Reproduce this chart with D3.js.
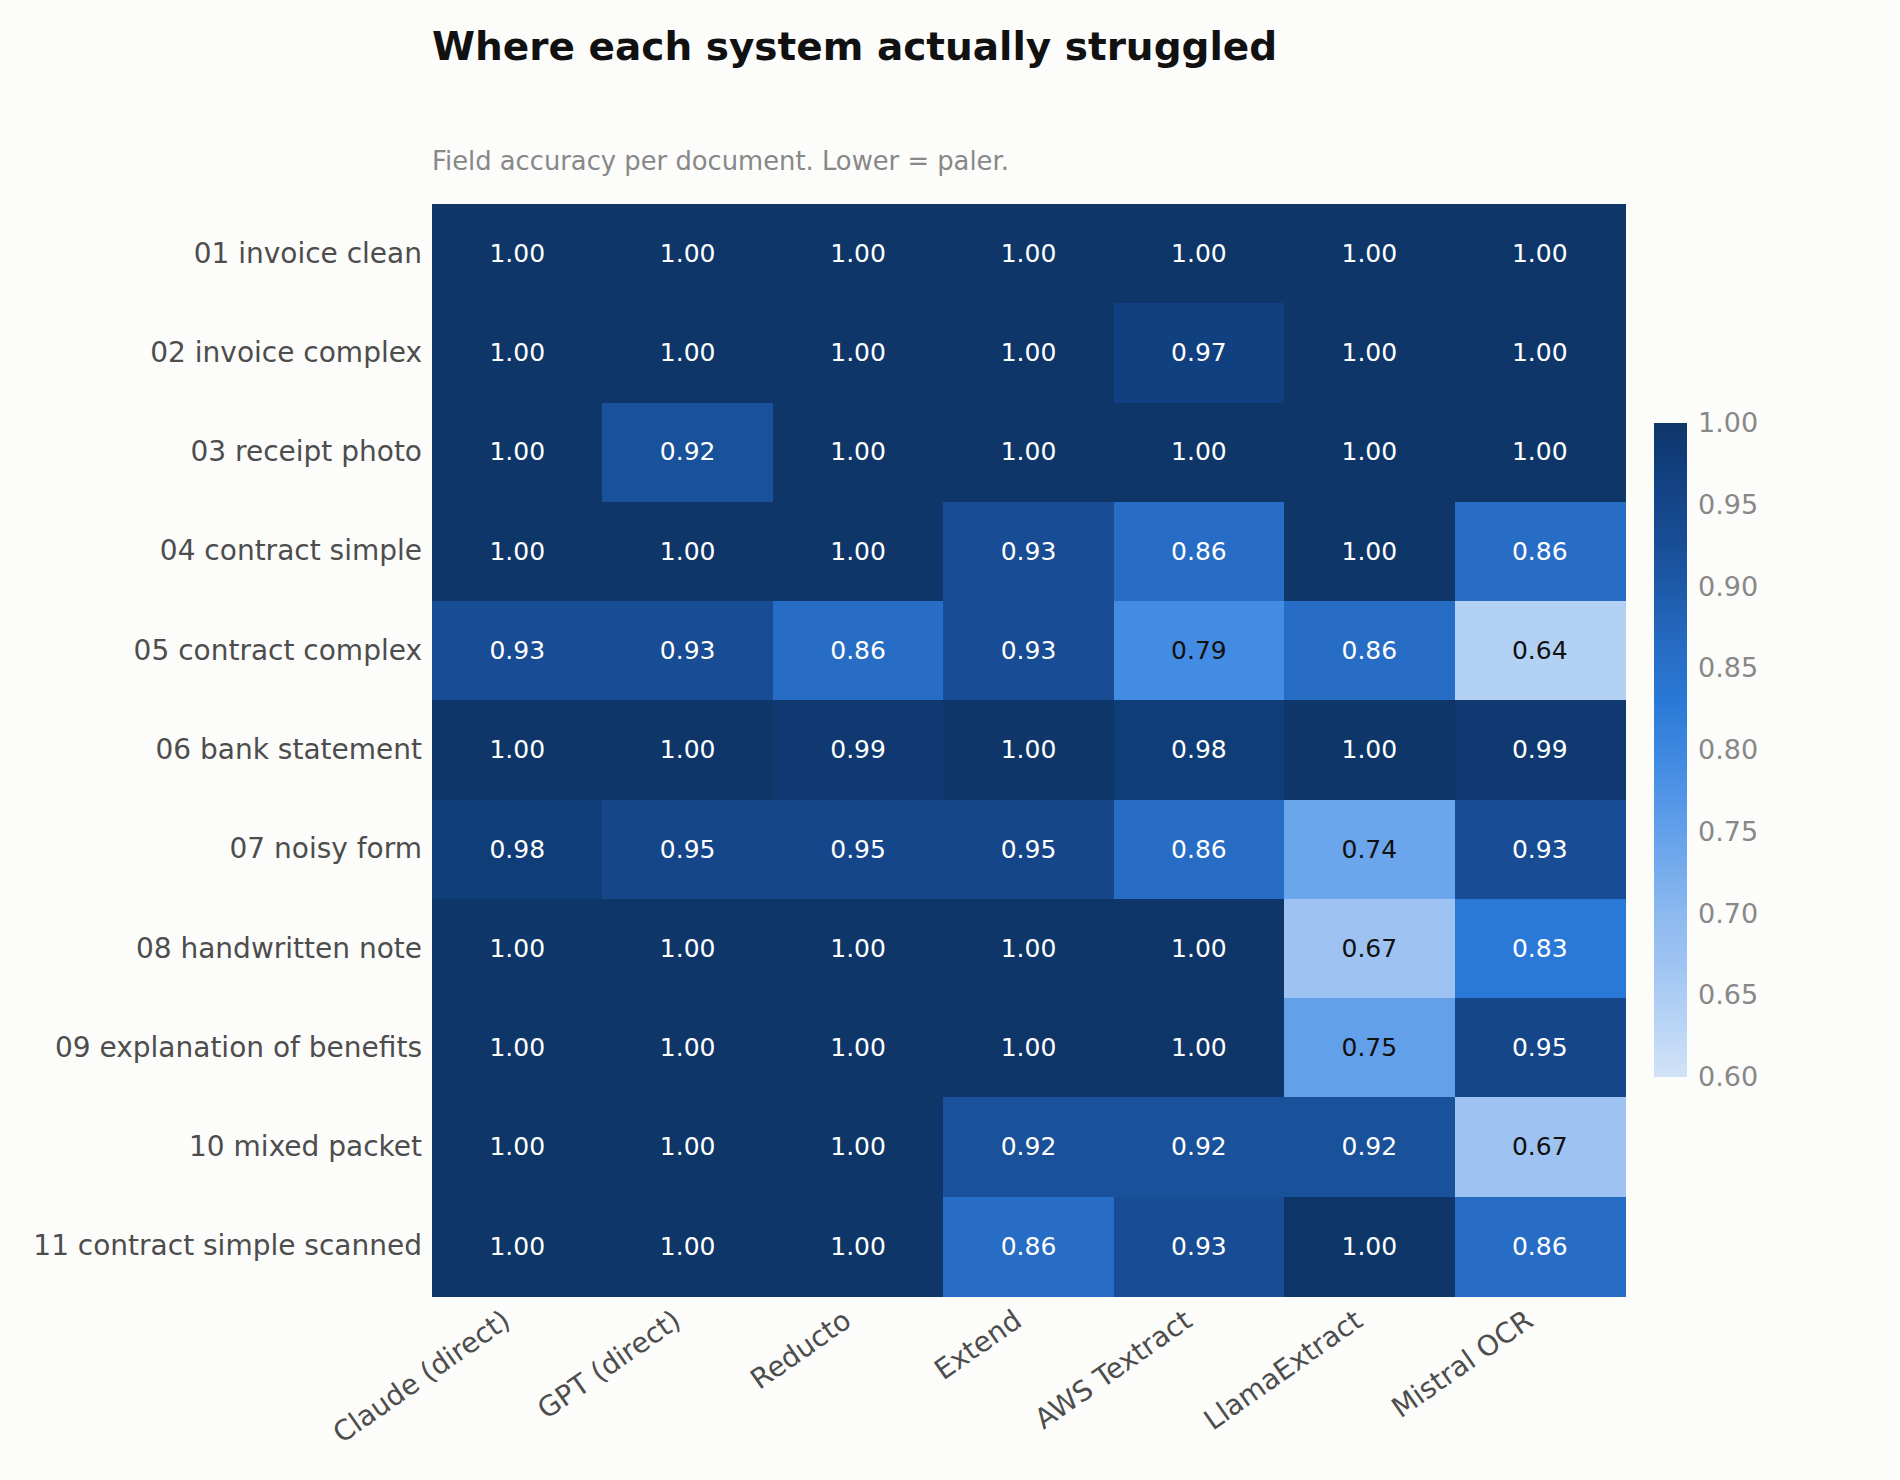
<!DOCTYPE html>
<html>
<head>
<meta charset="utf-8">
<title>Where each system actually struggled</title>
<script src="https://cdn.jsdelivr.net/npm/d3@7"></script>
<style>
  body { margin: 0; background: #fcfcfa; }
  text { font-family: "DejaVu Sans", sans-serif; }
</style>
</head>
<body>
<script>
// documents (rows) and systems (columns)
var documents = ["01 invoice clean", "02 invoice complex", "03 receipt photo", "04 contract simple",
  "05 contract complex", "06 bank statement", "07 noisy form", "08 handwritten note",
  "09 explanation of benefits", "10 mixed packet", "11 contract simple scanned"];
var systems = ["Claude (direct)", "GPT (direct)", "Reducto", "Extend", "AWS Textract", "LlamaExtract", "Mistral OCR"];

// field accuracy, one array per document, in the order of systems
var acc01 = [1.00, 1.00, 1.00, 1.00, 1.00, 1.00, 1.00];
var acc02 = [1.00, 1.00, 1.00, 1.00, 0.97, 1.00, 1.00];
var acc03 = [1.00, 0.92, 1.00, 1.00, 1.00, 1.00, 1.00];
var acc04 = [1.00, 1.00, 1.00, 0.93, 0.86, 1.00, 0.86];
var acc05 = [0.93, 0.93, 0.86, 0.93, 0.79, 0.86, 0.64];
var acc06 = [1.00, 1.00, 0.99, 1.00, 0.98, 1.00, 0.99];
var acc07 = [0.98, 0.95, 0.95, 0.95, 0.86, 0.74, 0.93];
var acc08 = [1.00, 1.00, 1.00, 1.00, 1.00, 0.67, 0.83];
var acc09 = [1.00, 1.00, 1.00, 1.00, 1.00, 0.75, 0.95];
var acc10 = [1.00, 1.00, 1.00, 0.92, 0.92, 0.92, 0.67];
var acc11 = [1.00, 1.00, 1.00, 0.86, 0.93, 1.00, 0.86];
var accuracy = [acc01, acc02, acc03, acc04, acc05, acc06, acc07, acc08, acc09, acc10, acc11];

var colorTicks = [0.60, 0.65, 0.70, 0.75, 0.80, 0.85, 0.90, 0.95, 1.00];

// flatten into cells
var cells = [];
documents.forEach(function(doc, i) {
  systems.forEach(function(sys, j) {
    cells.push({ doc: doc, sys: sys, value: accuracy[i][j] });
  });
});

var W = 1900, H = 1480;
var plotLeft = 432, plotRight = 1625, plotTop = 204, plotBottom = 1296;

var x = d3.scaleBand().domain(systems).range([plotLeft, plotRight]);
var y = d3.scaleBand().domain(documents).range([plotTop, plotBottom]);

// pale (low) to navy (high)
var color = d3.scaleLinear()
  .domain([0.60, 0.64, 0.67, 0.70, 0.75, 0.79, 0.83, 0.86, 0.90, 0.93, 0.95, 0.97, 1.00])
  .range(["#d2e3f7", "#b3d1f5", "#9ec3f2", "#8bb9ef", "#63a0ea", "#438ce3", "#2a79d6",
          "#276dc6", "#1d5aa8", "#184c94", "#15468a", "#10407f", "#0e3669"])
  .clamp(true);

var svg = d3.select("body").append("svg")
  .attr("width", W)
  .attr("height", H);

svg.append("rect").attr("width", W).attr("height", H).attr("fill", "#fcfcfa");

// title + subtitle
svg.append("text")
  .attr("x", plotLeft).attr("y", 60)
  .style("font-size", "39px").style("font-weight", "bold").attr("fill", "#111")
  .text("Where each system actually struggled");

svg.append("text")
  .attr("x", plotLeft).attr("y", 170)
  .style("font-size", "25.8px").attr("fill", "#888")
  .text("Field accuracy per document. Lower = paler.");

// cells
svg.append("g").attr("shape-rendering", "crispEdges").selectAll("rect")
  .data(cells)
  .enter().append("rect")
  .attr("x", function(d) { return x(d.sys); })
  .attr("y", function(d) { return y(d.doc); })
  .attr("width", x.bandwidth() + 1)
  .attr("height", y.bandwidth() + 1)
  .attr("fill", function(d) { return color(d.value); });

// annotations
svg.append("g").selectAll("text")
  .data(cells)
  .enter().append("text")
  .attr("x", function(d) { return x(d.sys) + x.bandwidth() / 2; })
  .attr("y", function(d) { return y(d.doc) + y.bandwidth() / 2; })
  .attr("text-anchor", "middle")
  .attr("dy", "0.33em")
  .style("font-size", "25px")
  .attr("fill", function(d) { return d.value < 0.8 ? "#111" : "#fff"; })
  .text(function(d) { return d3.format(".2f")(d.value); });

// y axis labels
var yAxis = svg.append("g")
  .attr("transform", "translate(" + plotLeft + ",0)")
  .call(d3.axisLeft(y).tickSize(0).tickPadding(10));
yAxis.select(".domain").remove();
yAxis.selectAll("text").style("font-size", "28px").attr("fill", "#4d4d4d")
  .style("font-family", "DejaVu Sans");

// x axis labels, rotated
var xAxis = svg.append("g")
  .attr("transform", "translate(0," + plotBottom + ")")
  .call(d3.axisBottom(x).tickSize(0));
xAxis.select(".domain").remove();
xAxis.selectAll("text")
  .style("font-size", "28px").attr("fill", "#4d4d4d").style("font-family", "DejaVu Sans")
  .attr("text-anchor", "end")
  .attr("x", -10).attr("y", 14).attr("dy", "0.76em")
  .attr("transform", "translate(-17,-6) rotate(-35)");

// colorbar
var cbX = 1654, cbW = 33, cbTop = 423, cbBottom = 1077;
var cbScale = d3.scaleLinear().domain([0.6, 1.0]).range([cbBottom, cbTop]);

var grad = svg.append("defs").append("linearGradient")
  .attr("id", "cbgrad")
  .attr("x1", "0").attr("y1", "1").attr("x2", "0").attr("y2", "0");
grad.selectAll("stop")
  .data(d3.range(0, 1.0001, 0.02))
  .enter().append("stop")
  .attr("offset", function(t) { return t; })
  .attr("stop-color", function(t) { return color(0.6 + 0.4 * t); });

svg.append("rect")
  .attr("x", cbX).attr("y", cbTop)
  .attr("width", cbW).attr("height", cbBottom - cbTop)
  .attr("fill", "url(#cbgrad)");

var cbAxis = svg.append("g")
  .attr("transform", "translate(" + (cbX + cbW) + ",0)")
  .call(d3.axisRight(cbScale).tickValues(colorTicks).tickFormat(d3.format(".2f")).tickSize(0).tickPadding(11));
cbAxis.select(".domain").remove();
cbAxis.selectAll("text").style("font-size", "27px").attr("fill", "#888")
  .style("font-family", "DejaVu Sans");
</script>
</body>
</html>
